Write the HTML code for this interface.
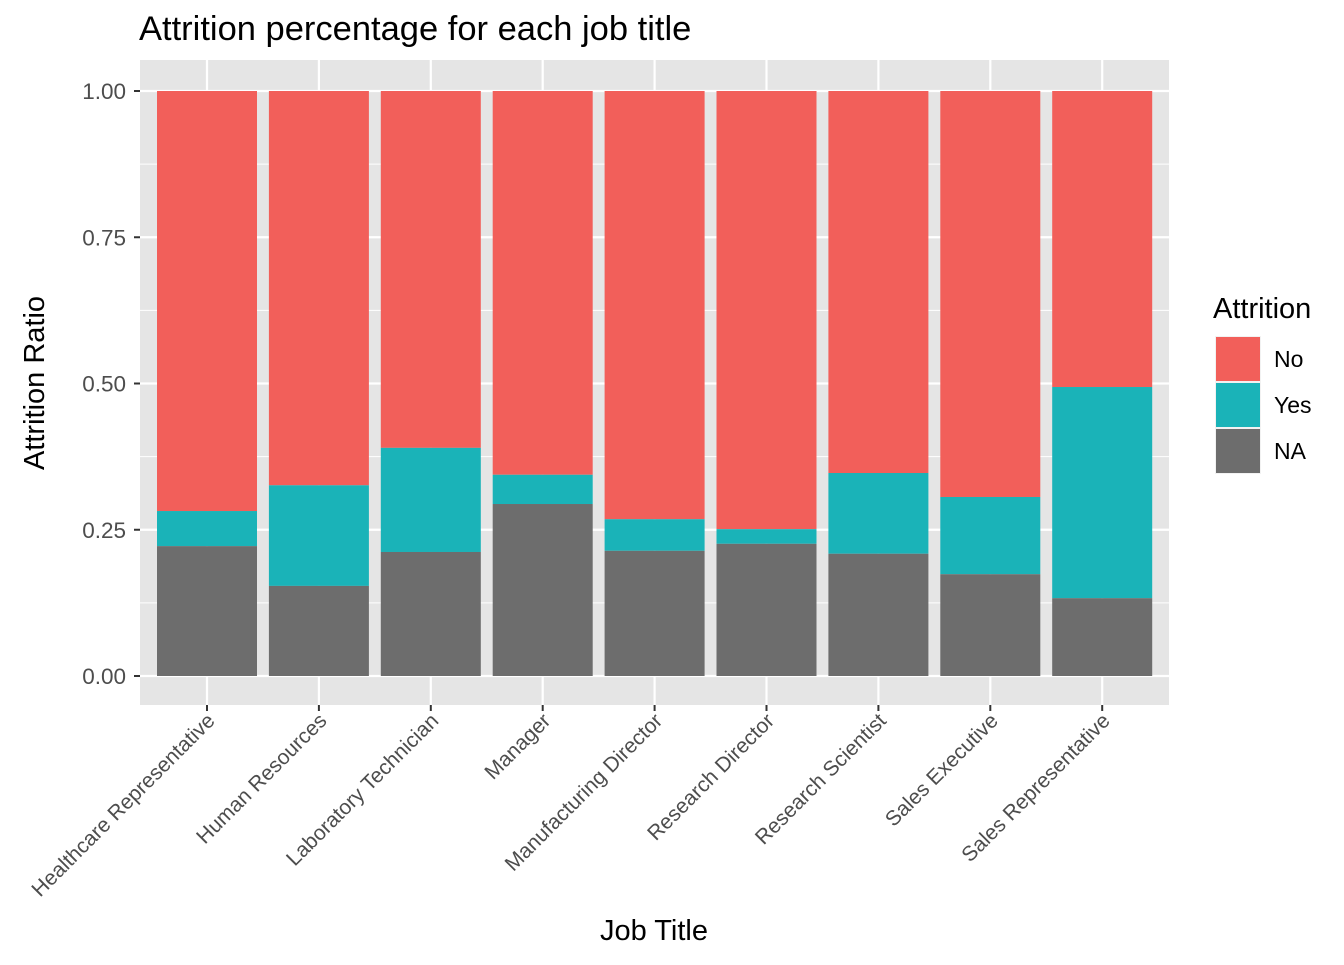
<!DOCTYPE html>
<html><head><meta charset="utf-8"><style>
body{margin:0;background:#fff;}
svg text{font-family:"Liberation Sans",Arial,sans-serif;}
</style></head><body>
<svg id="chart" width="1344" height="960">
<text x="139" y="40" font-size="34.5" fill="#000">Attrition percentage for each job title</text>
<rect x="140" y="60" width="1029" height="645" fill="#e5e5e5"/>
<g id="grid"></g><g id="bars"></g><g id="axes"></g>
<text transform="translate(44,383) rotate(-90)" text-anchor="middle" font-size="29">Attrition Ratio</text>
<text x="654" y="940" text-anchor="middle" font-size="29">Job Title</text>
<g>
<text x="1213" y="318" font-size="29">Attrition</text>
<rect x="1215" y="336" width="46" height="138" fill="#f2f2f2"/>
<rect x="1216" y="337" width="44" height="44" fill="#F25F5A"/>
<rect x="1216" y="383" width="44" height="44" fill="#1AB3B8"/>
<rect x="1216" y="429" width="44" height="44" fill="#6d6d6d"/>
<text x="1274" y="367" font-size="23">No</text>
<text x="1274" y="413" font-size="23">Yes</text>
<text x="1274" y="459" font-size="23">NA</text>
</g>
</svg>
<script>
const categories=["Healthcare Representative","Human Resources","Laboratory Technician","Manager","Manufacturing Director","Research Director","Research Scientist","Sales Executive","Sales Representative"];
const naValues=[0.222,0.154,0.212,0.294,0.214,0.226,0.209,0.174,0.133];
const yesValues=[0.060,0.172,0.178,0.050,0.054,0.025,0.138,0.132,0.361];
const yTicks=[0,0.25,0.5,0.75,1];
const yTickLabels=["0.00","0.25","0.50","0.75","1.00"];
const NS="http://www.w3.org/2000/svg";
const y=v=>676-v*585;
const x=i=>207+i*111.9;
const bw=100;
function mk(p,tag,a){const e=document.createElementNS(NS,tag);for(const k in a)e.setAttribute(k,a[k]);document.getElementById(p).appendChild(e);return e;}
for(let i=0;i<4;i++){const v=0.125+i*0.25;const g=mk("grid","line",{x1:140,x2:1169,y1:y(v),y2:y(v),stroke:"#fff","stroke-width":1});

}
yTicks.forEach((v,i)=>{const g=mk("grid","line",{x1:140,x2:1169,y1:y(v),y2:y(v),stroke:"#fff","stroke-width":2.2});


const t=mk("axes","line",{x1:134,x2:140,y1:y(v),y2:y(v),stroke:"#333","stroke-width":2});


const l=mk("axes","text",{x:126,y:y(v)+8,"text-anchor":"end","font-size":22.5,fill:"#4d4d4d"});l.textContent=yTickLabels[i];

});
categories.forEach((c,i)=>{const cx=x(i);
const g=mk("grid","line",{x1:cx,x2:cx,y1:60,y2:705,stroke:"#fff","stroke-width":2.2});


const na=naValues[i],ys=yesValues[i];
const r1=mk("bars","rect",{x:cx-bw/2,y:y(1),width:bw,height:y(na+ys)-y(1),fill:"#F25F5A"});


const r2=mk("bars","rect",{x:cx-bw/2,y:y(na+ys),width:bw,height:y(na)-y(na+ys),fill:"#1AB3B8"});


const r3=mk("bars","rect",{x:cx-bw/2,y:y(na),width:bw,height:y(0)-y(na),fill:"#6d6d6d"});


const t=mk("axes","line",{x1:cx,x2:cx,y1:705,y2:711,stroke:"#333","stroke-width":2});


const l=mk("axes","text",{transform:`translate(${cx+9},${722}) rotate(-45)`,"text-anchor":"end","font-size":21,fill:"#4d4d4d"});l.textContent=c;

});
</script>
</body></html>
